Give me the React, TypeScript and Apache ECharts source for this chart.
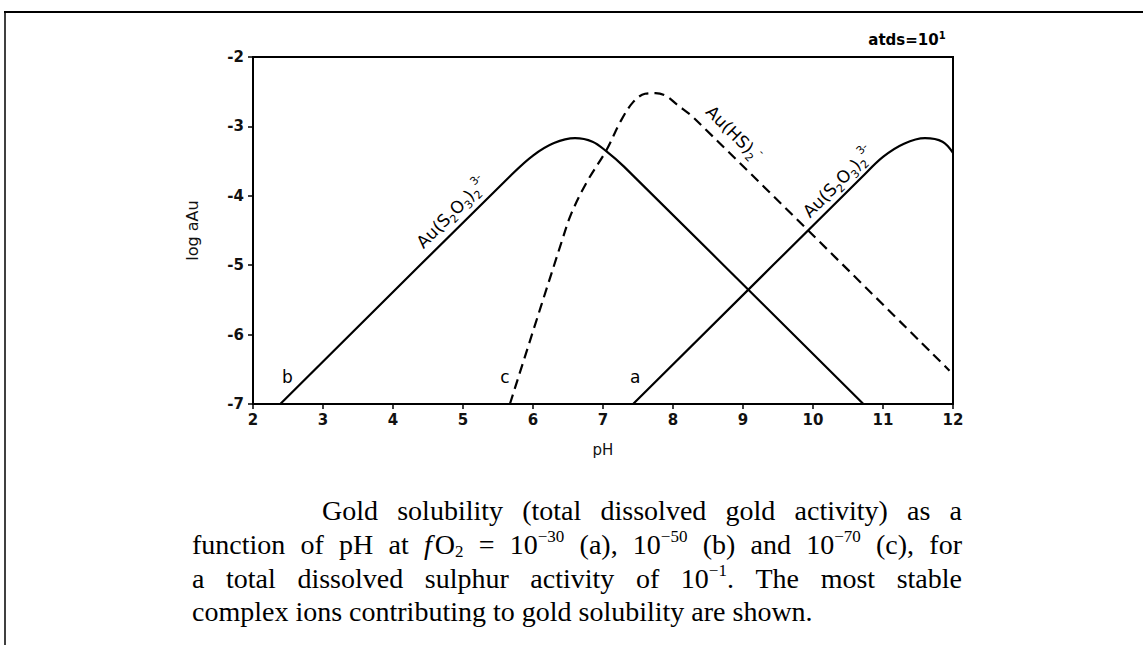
import React, { useEffect, useRef } from "react";
import * as echarts from "echarts";

// pH / log aAu readings
const curveA_pH = [7.43, 10.7, 11.0, 11.3, 11.6, 11.85, 12.0];
const curveA_log = [-7, -3.73, -3.44, -3.25, -3.17, -3.22, -3.38];

const curveB_pH = [2.39, 5.7, 6.0, 6.3, 6.6, 6.85, 7.05, 7.3, 10.72];
const curveB_log = [-7, -3.69, -3.42, -3.24, -3.17, -3.22, -3.36, -3.58, -7];

const curveC_pH = [5.67, 6.41, 6.55, 6.77, 7.05, 7.25, 7.43, 7.6, 7.75, 7.9, 8.05, 8.3, 11.95];
const curveC_log = [-7, -4.66, -4.25, -3.8, -3.34, -2.93, -2.65, -2.53, -2.52, -2.56, -2.68, -2.88, -6.52];

const zip = (xs: number[], ys: number[]) => xs.map((x, i) => [x, ys[i]]);

// annotation anchors in data coordinates
const curveLabels = [
  { key: "b", pH: 2.49, log: -6.61, rot: 0, text: "{m|b}" },
  { key: "c", pH: 5.6, log: -6.61, rot: 0, text: "{m|c}" },
  { key: "a", pH: 7.46, log: -6.61, rot: 0, text: "{m|a}" },
  { key: "s1", pH: 4.84, log: -4.24, rot: 45, text: "{m|Au(S}{s|2}{m|O}{s|3}{m|)}{s|2}{p|3-}" },
  { key: "hs", pH: 8.87, log: -3.1, rot: -45, text: "{m|Au(HS)}{s|2}{p|-}" },
  { key: "s2", pH: 10.36, log: -3.8, rot: 45, text: "{m|Au(S}{s|2}{m|O}{s|3}{m|)}{s|2}{p|3-}" },
];

// caption: lines -> words -> [style, text] tokens
type Tok = [string, string];
const captionLines: Tok[][][] = [
  "Gold solubility (total dissolved gold activity) as a".split(" ").map((w) => [["t", w]] as Tok[]),
  [
    [["t", "function"]], [["t", "of"]], [["t", "pH"]], [["t", "at"]],
    [["i", "f"], ["t", "O"], ["s", "2"]], [["t", "="]],
    [["t", "10"], ["p", "−30"]], [["t", "(a),"]],
    [["t", "10"], ["p", "−50"]], [["t", "(b)"]], [["t", "and"]],
    [["t", "10"], ["p", "−70"]], [["t", "(c),"]], [["t", "for"]],
  ],
  [
    [["t", "a"]], [["t", "total"]], [["t", "dissolved"]], [["t", "sulphur"]], [["t", "activity"]], [["t", "of"]],
    [["t", "10"], ["p", "−1"], ["t", "."]], [["t", "The"]], [["t", "most"]], [["t", "stable"]],
  ],
  "complex ions contributing to gold solubility are shown.".split(" ").map((w) => [["t", w]] as Tok[]),
];
const captionJustify = [true, true, true, false];

const SANS = "DejaVu Sans";
const SERIF = "Liberation Serif";
const CAP_SIZE = 28;
const CAP_SUB = 17;

export default function App() {
  const ref = useRef<HTMLDivElement>(null);
  useEffect(() => {
    document.body.style.margin = "0";
    const chart = echarts.init(ref.current!, undefined, { renderer: "svg" });
    const lineStyleBase = { color: "#000", width: 2.2 };
    const axisFont = { fontFamily: SANS, fontSize: 15, fontWeight: "bold" as const, color: "#111" };
    chart.setOption({
      animation: false,
      backgroundColor: "#fff",
      grid: {
        left: 253,
        right: 190,
        top: 57,
        bottom: 241,
        show: true,
        borderColor: "#000",
        borderWidth: 2,
        backgroundColor: "transparent",
      },
      xAxis: {
        type: "value",
        min: 2,
        max: 12,
        interval: 1,
        name: "pH",
        nameLocation: "middle",
        nameGap: 38,
        nameTextStyle: { fontFamily: SANS, fontSize: 15, color: "#111" },
        axisLine: { lineStyle: { color: "#000", width: 2 } },
        axisTick: { show: true, length: 5, lineStyle: { color: "#000", width: 1.5 } },
        axisLabel: { ...axisFont, margin: 8 },
        splitLine: { show: false },
      },
      yAxis: {
        type: "value",
        min: -7,
        max: -2,
        interval: 1,
        name: "log aAu",
        nameLocation: "middle",
        nameGap: 53,
        nameRotate: 90,
        nameTextStyle: { fontFamily: SANS, fontSize: 16, color: "#111" },
        axisLine: { show: true, lineStyle: { color: "#000", width: 2 } },
        axisTick: { show: true, length: 5, lineStyle: { color: "#000", width: 1.5 } },
        axisLabel: { ...axisFont, margin: 9 },
        splitLine: { show: false },
      },
      series: [
        {
          name: "a",
          type: "line",
          data: zip(curveA_pH, curveA_log),
          smooth: 0.35,
          symbol: "none",
          lineStyle: { ...lineStyleBase },
        },
        {
          name: "b",
          type: "line",
          data: zip(curveB_pH, curveB_log),
          smooth: 0.35,
          symbol: "none",
          lineStyle: { ...lineStyleBase },
        },
        {
          name: "c",
          type: "line",
          data: zip(curveC_pH, curveC_log),
          smooth: 0.35,
          symbol: "none",
          lineStyle: { ...lineStyleBase, type: [10, 6] },
        },
      ],
    });

    const labelRich = {
      m: { fontFamily: SANS, fontSize: 17, color: "#111", lineHeight: 24, verticalAlign: "middle" },
      s: { fontFamily: SANS, fontSize: 11, color: "#111", lineHeight: 11, verticalAlign: "bottom" },
      p: { fontFamily: SANS, fontSize: 11, color: "#111", lineHeight: 11, verticalAlign: "top" },
    };
    const capRich: any = {
      t: { fontFamily: SERIF, fontSize: CAP_SIZE, color: "#000", lineHeight: 32, verticalAlign: "middle" },
      i: { fontFamily: SERIF, fontSize: CAP_SIZE, fontStyle: "italic", color: "#000", lineHeight: 32, padding: [0, 3, 0, 0] },
      s: { fontFamily: SERIF, fontSize: CAP_SUB, color: "#000", lineHeight: 16, verticalAlign: "bottom" },
      p: { fontFamily: SERIF, fontSize: CAP_SUB, color: "#000", lineHeight: 16, verticalAlign: "top" },
    };
    const fontOf: Record<string, string> = {
      t: `${CAP_SIZE}px "${SERIF}"`,
      i: `italic ${CAP_SIZE}px "${SERIF}"`,
      s: `${CAP_SUB}px "${SERIF}"`,
      p: `${CAP_SUB}px "${SERIF}"`,
    };
    const ctx = document.createElement("canvas").getContext("2d")!;
    const measureWord = (w: Tok[]) =>
      w.reduce((acc, [st, tx]) => {
        ctx.font = fontOf[st];
        return acc + ctx.measureText(tx).width + (st === "i" ? 3 : 0);
      }, 0);

    const graphics: any[] = [];
    curveLabels.forEach((l) => {
      const [px, py] = chart.convertToPixel({ gridIndex: 0 }, [l.pH, l.log]) as number[];
      graphics.push({
        type: "text",
        x: px,
        y: py,
        rotation: (l.rot * Math.PI) / 180,
        style: { text: l.text, rich: labelRich, align: "center", verticalAlign: "middle" },
      });
    });
    graphics.push({
      type: "text",
      x: 907,
      y: 40,
      style: {
        text: "{m|atds=10}{p|1}",
        rich: {
          m: { fontFamily: SANS, fontSize: 15, fontWeight: "bold", color: "#000", lineHeight: 20 },
          p: { fontFamily: SANS, fontSize: 10, fontWeight: "bold", color: "#000", lineHeight: 10, verticalAlign: "top" },
        },
        align: "center",
        verticalAlign: "middle",
      },
    });

    const capX = [322, 192, 192, 192];
    const capEnd = 962;
    const capY = [510, 544, 578, 611];
    captionLines.forEach((words, li) => {
      const widths = words.map(measureWord);
      const total = widths.reduce((a, b) => a + b, 0);
      ctx.font = fontOf.t;
      const natural = ctx.measureText(" ").width;
      const gap = captionJustify[li] ? (capEnd - capX[li] - total) / (words.length - 1) : natural;
      let x = capX[li];
      words.forEach((w, wi) => {
        graphics.push({
          type: "text",
          x,
          y: capY[li],
          style: {
            text: w.map(([st, tx]) => `{${st}|${tx}}`).join(""),
            rich: capRich,
            align: "left",
            verticalAlign: "middle",
          },
        });
        x += widths[wi] + gap;
      });
    });
    // outer frame
    graphics.push({ type: "line", shape: { x1: 4, y1: 12, x2: 1143, y2: 12 }, style: { stroke: "#000", lineWidth: 2 } });
    graphics.push({ type: "line", shape: { x1: 5, y1: 12, x2: 5, y2: 645 }, style: { stroke: "#000", lineWidth: 1.5 } });

    chart.setOption({ graphic: graphics });
    return () => chart.dispose();
  }, []);
  return <div ref={ref} style={{ width: 1143, height: 645 }} />;
}
